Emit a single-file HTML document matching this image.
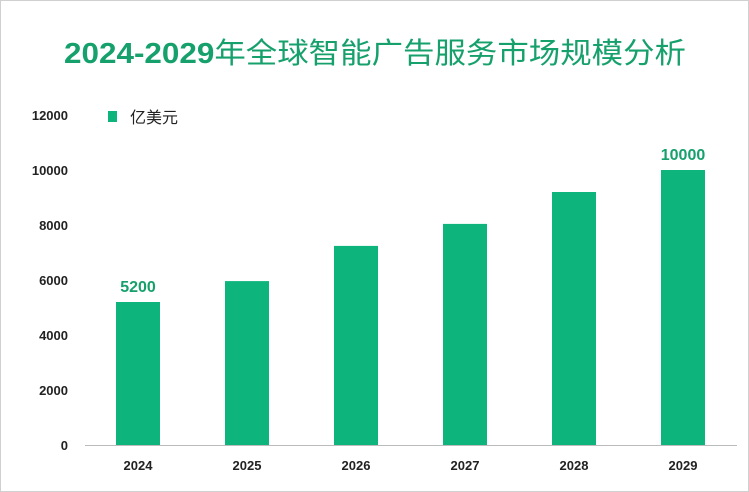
<!DOCTYPE html>
<html><head><meta charset="utf-8"><style>
body{margin:0;background:#fff;}
#c{position:relative;width:749px;height:492px;overflow:hidden;font-family:"Liberation Sans","Noto Sans CJK SC",sans-serif;}
</style></head><body>
<div id="c">
<svg id="s" width="749" height="492" xmlns="http://www.w3.org/2000/svg">
<rect x="0.5" y="0.5" width="748" height="491" fill="#fff" stroke="#d0d0d0"/>
<text x="64" y="63" font-size="29" fill="#16a06c" textLength="622" lengthAdjust="spacingAndGlyphs" font-family="Liberation Sans, Noto Sans CJK SC, sans-serif"><tspan font-weight="bold">2024-2029</tspan><tspan font-family="Noto Sans CJK SC, sans-serif">年全球智能广告服务市场规模分析</tspan></text>
<rect x="108" y="111" width="9" height="11" fill="#0db57d"/>
<text x="130" y="123" font-size="16" fill="#222" font-family="Noto Sans CJK SC, sans-serif">亿美元</text>
<g id="g"></g>
</svg>
</div>
<script>
const categories=["2024","2025","2026","2027","2028","2029"];
const values=[5200,5960,7240,8040,9200,10000];
const labelsShown=["5200","","","","","10000"];
const yTicks=[0,2000,4000,6000,8000,10000,12000];
const NS="http://www.w3.org/2000/svg";
const g=document.getElementById('g');
const y0=445,yMax=12000,h=330;
function yS(v){return y0-v/yMax*h;}
function xS(i){return 138+i*109;}
function mk(t,a){const e=document.createElementNS(NS,t);for(const k in a)e.setAttribute(k,a[k]);g.appendChild(e);return e;}
yTicks.forEach(t=>{
 const e=mk('text',{x:68,y:yS(t)+5,'text-anchor':'end','font-size':13,'font-weight':'bold',fill:'#222'});
 e.textContent=t;
 
 
});
const ax=mk('line',{x1:85,x2:737,y1:y0+0.5,y2:y0+0.5,stroke:'#bbb'});


categories.forEach((c,i)=>{
 const b=mk('rect',{x:xS(i)-22,y:yS(values[i]),width:44,height:y0-yS(values[i]),fill:'#0db57d'});
 
 
 const t=mk('text',{x:xS(i),y:470,'text-anchor':'middle','font-size':13,'font-weight':'bold',fill:'#222'});
 t.textContent=c;
 
 
 if(labelsShown[i]){
  const l=mk('text',{x:xS(i),y:yS(values[i])-10,'text-anchor':'middle','font-size':16,'font-weight':'bold',fill:'#16a06c'});
  l.textContent=labelsShown[i];
  
  
 }
});
</script>
</body></html>
